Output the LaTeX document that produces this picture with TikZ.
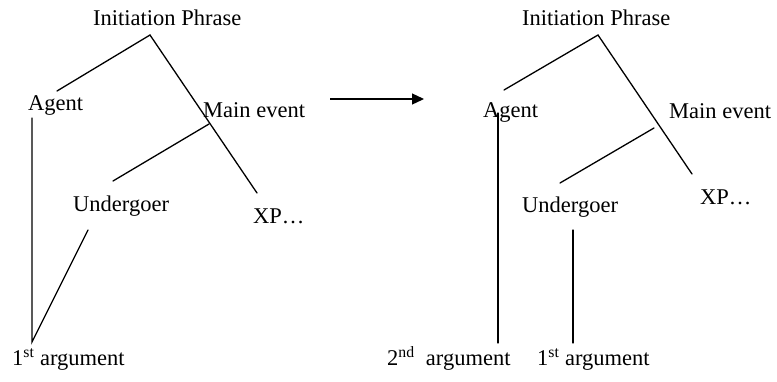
\documentclass[tikz,border=0pt]{standalone}
\usepackage{fontspec}
\setmainfont{Liberation Serif}
\usetikzlibrary{arrows.meta}
\begin{document}
\begin{tikzpicture}[x=1pt,y=-1pt,
  lbl/.style={inner sep=0pt,anchor=base west,font=\fontsize{22.5}{26}\selectfont},
  edge/.style={line width=1.3pt,line cap=round}]
\useasboundingbox (0,0) rectangle (777,381);
% left tree labels
\node[lbl] (lIP) at (93,25) {Initiation Phrase};
\node[lbl] (lAg) at (28,110) {Agent};
\node[lbl] (lME) at (203,117) {Main event};
\node[lbl] (lUn) at (73,211) {Undergoer};
\node[lbl] (lXP) at (253,223) {XP…};
\node[lbl] (lA1) at (12,365) {1\textsuperscript{st} argument};
% left tree points
\coordinate (lTop) at (150,35);
\coordinate (lAgT) at (57,91);
\coordinate (lXPT) at (257,193);
\coordinate (lMEB) at (209,124);
\coordinate (lUnT) at (113,181);
\coordinate (lAgB) at (32,118);
\coordinate (lUnB) at (88,230);
\coordinate (lArg) at (32,342);
\draw[edge] (lAgT) -- (lTop) -- (lXPT);
\draw[edge] (lMEB) -- (lUnT);
\draw[edge] (lAgB) -- (lArg) -- (lUnB);
% arrow
\coordinate (arS) at (330,99);
\coordinate (arE) at (424,99);
\draw[line width=1.3pt,-{Triangle[length=12pt,width=11pt]}] (arS) -- (arE);
% right tree labels
\node[lbl] (rIP) at (522,25) {Initiation Phrase};
\node[lbl] (rAg) at (483,117) {Agent};
\node[lbl] (rME) at (669,118) {Main event};
\node[lbl] (rUn) at (522,212) {Undergoer};
\node[lbl] (rXP) at (700,204) {XP…};
\node[lbl] (rA2) at (387,365) {2\textsuperscript{nd}\ \ argument};
\node[lbl] (rA1) at (537,365) {1\textsuperscript{st} argument};
% right tree points
\coordinate (rTop) at (598,35);
\coordinate (rAgT) at (504,90);
\coordinate (rXPT) at (692,174);
\coordinate (rMEB) at (654,128);
\coordinate (rUnT) at (560,183);
\coordinate (rAgB) at (498,113);
\coordinate (rA2T) at (498,343);
\coordinate (rUnB) at (573,230);
\coordinate (rA1T) at (573,343);
\draw[edge] (rAgT) -- (rTop) -- (rXPT);
\draw[edge] (rMEB) -- (rUnT);
\draw[edge] (rAgB) -- (rA2T);
\draw[edge] (rUnB) -- (rA1T);
\end{tikzpicture}
\end{document}
